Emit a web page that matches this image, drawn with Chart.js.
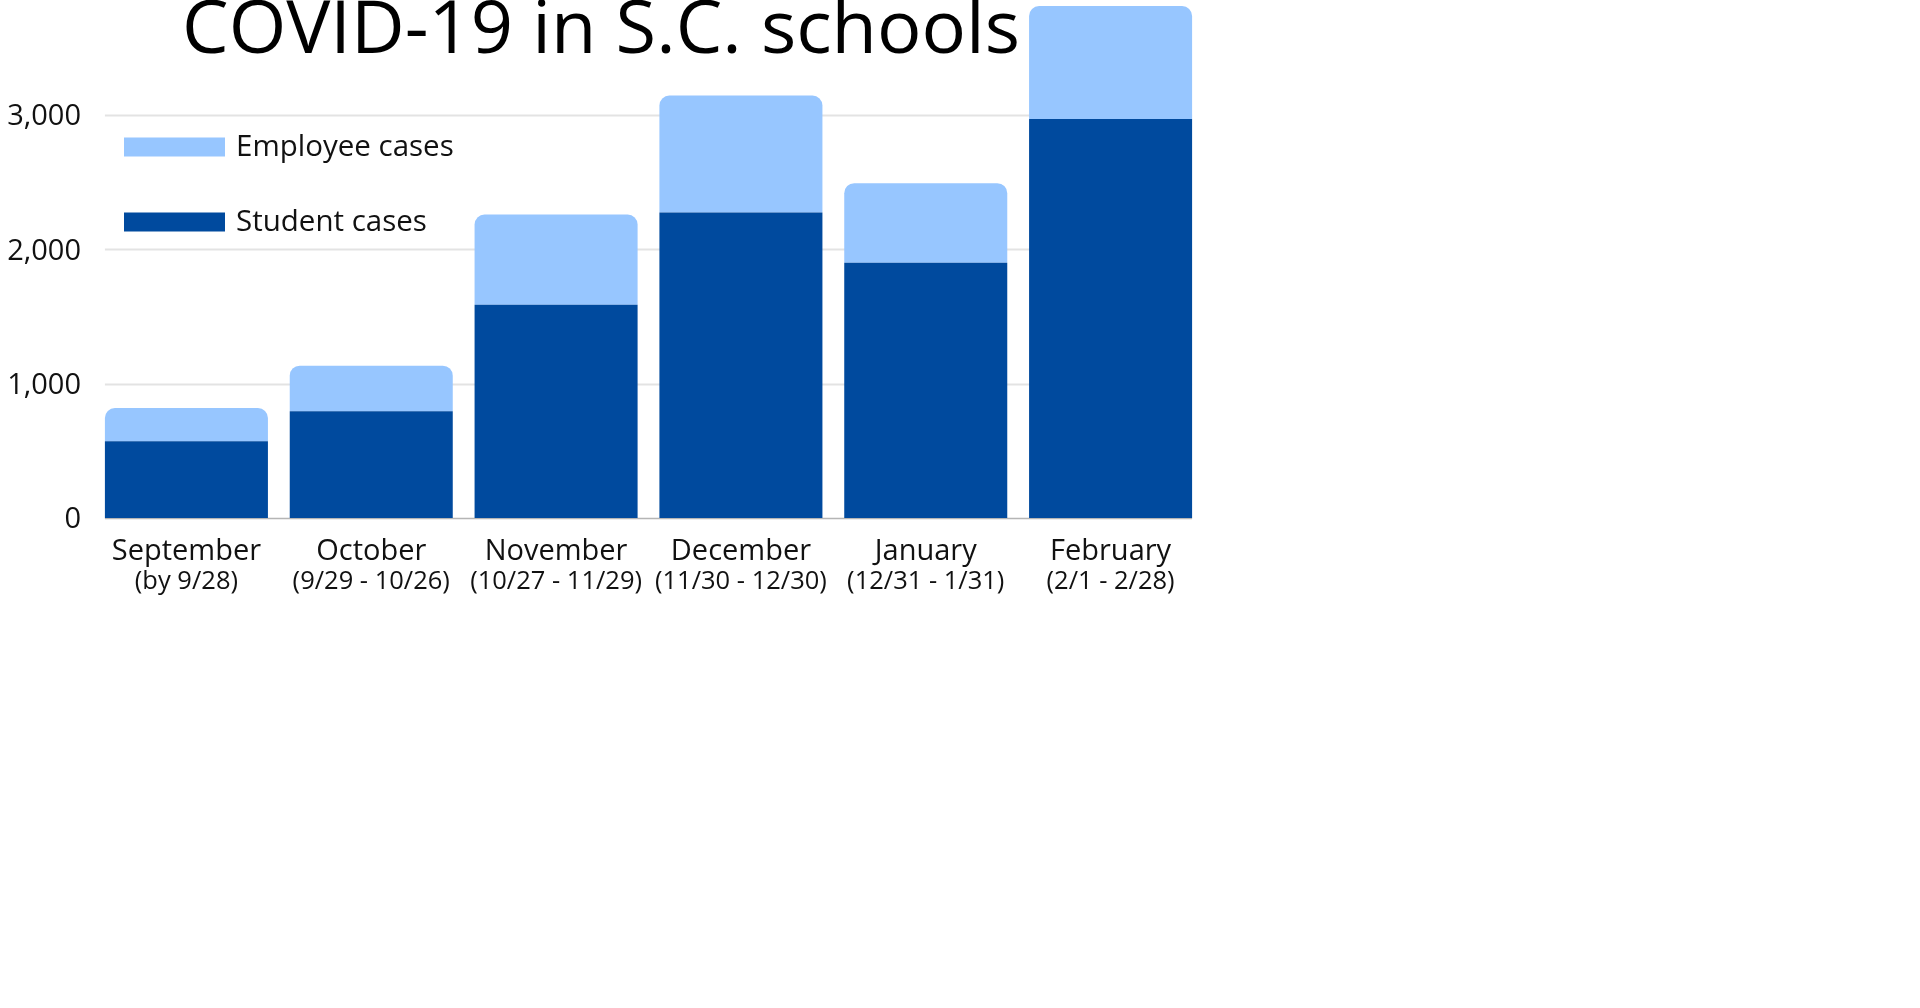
<!DOCTYPE html>
<html>
<head>
<meta charset="utf-8">
<title>COVID-19 in S.C. schools</title>
<script src="https://cdn.jsdelivr.net/npm/chart.js@4.4.1/dist/chart.umd.min.js"></script>
<style>
  html, body { margin: 0; padding: 0; background: #fff; }
  #wrap { position: absolute; left: 0; top: 0; width: 1220px; height: 620px; }
</style>
</head>
<body>
<div id="wrap"><canvas id="chart"></canvas></div>
<script>
// data
const months = ["September", "October", "November", "December", "January", "February"];
const ranges = ["(by 9/28)", "(9/29 - 10/26)", "(10/27 - 11/29)", "(11/30 - 12/30)", "(12/31 - 1/31)", "(2/1 - 2/28)"];
const studentCases = [572, 794, 1587, 2275, 1900, 2971];
const employeeCases = [247, 340, 673, 871, 593, 841];
const yTicks = [0, 1000, 2000, 3000];

const titleText = "COVID-19 in S.C. schools";
const FONT = "'Open Sans', 'Noto Sans', sans-serif";
const LIGHT = "#97c6ff";
const DARK = "#004a9e";

const totals = studentCases.map((v, i) => v + employeeCases[i]);
const yMax = Math.max(...totals);

// gridlines only span the bars, not the padded category area
const barGrid = {
  id: "barGrid",
  beforeDatasetsDraw(chart) {
    const { ctx } = chart;
    const y = chart.scales.y;
    const bars = chart.getDatasetMeta(0).data;
    const first = bars[0], last = bars[bars.length - 1];
    const x0 = first.x - first.width / 2;
    const x1 = last.x + last.width / 2;
    ctx.save();
    yTicks.forEach(v => {
      const py = Math.round(y.getPixelForValue(v)) + 0.5;
      ctx.beginPath();
      ctx.strokeStyle = v === 0 ? "#b5b5b5" : "#e3e3e3";
      ctx.lineWidth = v === 0 ? 1.5 : 2;
      ctx.moveTo(x0, py);
      ctx.lineTo(x1, py);
      ctx.stroke();
    });
    ctx.restore();
  }
};

// title, legend and the date ranges under each month
const extras = {
  id: "extras",
  afterDraw(chart) {
    const { ctx } = chart;
    const x = chart.scales.x;
    ctx.save();

    ctx.fillStyle = "#000";
    ctx.font = "74px " + FONT;
    ctx.textAlign = "center";
    ctx.textBaseline = "alphabetic";
    ctx.fillText(titleText, 601, 53);

    ctx.font = "25.5px " + FONT;
    ctx.fillStyle = "#111";
    ranges.forEach((r, i) => {
      ctx.fillText(r, x.getPixelForValue(i), x.top + 71);
    });

    // legend: top of stack first
    const items = chart.data.datasets.slice().reverse();
    ctx.textAlign = "left";
    ctx.textBaseline = "middle";
    ctx.font = "29.5px " + FONT;
    items.forEach((ds, i) => {
      const cy = 147 + i * 75;
      ctx.fillStyle = ds.backgroundColor;
      ctx.fillRect(124, cy - 9.5, 101, 19);
      ctx.fillStyle = "#111";
      ctx.fillText(ds.label, 236, cy + 1);
    });
    ctx.restore();
  }
};

new Chart(document.getElementById("chart"), {
  type: "bar",
  data: {
    labels: months,
    datasets: [
      {
        label: "Student cases",
        data: studentCases,
        backgroundColor: DARK,
        borderWidth: 0,
        borderRadius: 0
      },
      {
        label: "Employee cases",
        data: employeeCases,
        backgroundColor: LIGHT,
        borderWidth: 0,
        borderRadius: { topLeft: 10, topRight: 10, bottomLeft: 0, bottomRight: 0 },
        borderSkipped: "start"
      }
    ]
  },
  options: {
    responsive: true,
    maintainAspectRatio: false,
    devicePixelRatio: 1,
    animation: false,
    categoryPercentage: 1,
    barPercentage: 0.882,
    layout: { padding: { top: 6, right: 17, left: 0, bottom: 0 } },
    plugins: {
      legend: { display: false },
      title: { display: false },
      tooltip: { enabled: false }
    },
    scales: {
      x: {
        stacked: true,
        grid: { display: false, drawTicks: false },
        border: { display: false },
        ticks: {
          color: "#111",
          font: { family: FONT, size: 29 },
          padding: 16,
          maxRotation: 0,
          autoSkip: false
        },
        afterFit(s) { s.height = 102; }
      },
      y: {
        stacked: true,
        min: 0,
        max: yMax,
        bounds: "data",
        grid: { display: false, drawTicks: false },
        border: { display: false },
        ticks: {
          autoSkip: false,
          color: "#111",
          font: { family: FONT, size: 29 },
          padding: 13,
          labelOffset: 2,
          callback: v => Number(v).toLocaleString("en-US")
        },
        afterBuildTicks(s) { s.ticks = yTicks.map(v => ({ value: v })); },
        afterFit(s) {
          s.width = 94;
          s.paddingTop = 0;
          s.paddingBottom = 0;
        }
      }
    }
  },
  plugins: [barGrid, extras]
});
</script>
</body>
</html>
